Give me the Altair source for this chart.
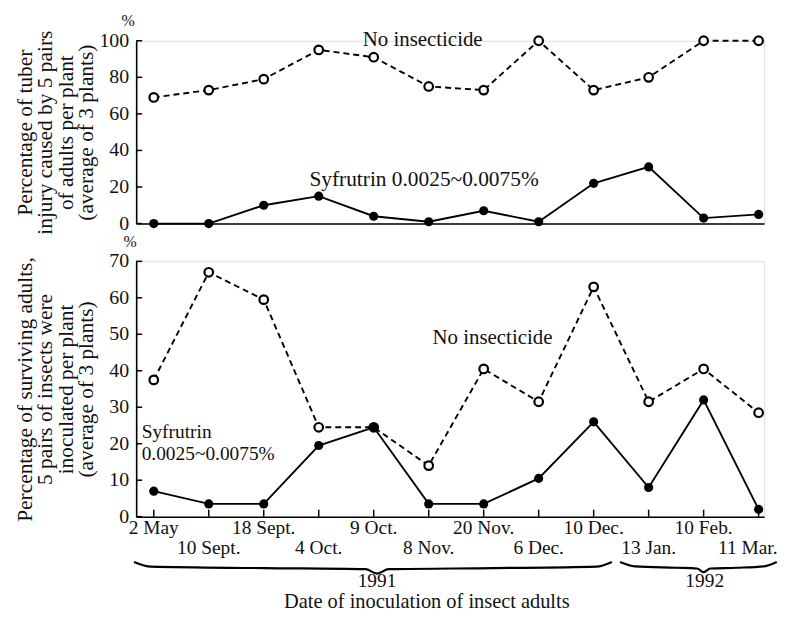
import altair as alt
import pandas as pd

# ---------------- data ----------------
dates = ["2 May", "10 Sept.", "18 Sept.", "4 Oct.", "9 Oct.", "8 Nov.",
         "20 Nov.", "6 Dec.", "10 Dec.", "13 Jan.", "10 Feb.", "11 Mar."]
injury_none = [69, 73, 79, 95, 91, 75, 73, 100, 73, 80, 100, 100]
injury_syf = [0, 0, 10, 15, 4, 1, 7, 1, 22, 31, 3, 5]
survive_none = [37.5, 67, 59.5, 24.5, 24.5, 14, 40.5, 31.5, 63, 31.5, 40.5, 28.5]
survive_syf = [7, 3.5, 3.5, 19.5, 24.5, 3.5, 3.5, 10.5, 26, 8, 32, 2]
top_ticks = [0, 20, 40, 60, 80, 100]
bottom_ticks = [0, 10, 20, 30, 40, 50, 60, 70]
years = ["1991", "1992"]

# brace outlines (x in date index, y in bottom-panel units)
brace1_x = [-0.36, -0.05, 2.0, 3.85, 4.06, 4.27, 6.2, 8.05, 8.33]
brace1_y = [-12.4, -13.7, -14.1, -14.4, -15.6, -14.4, -14.1, -13.7, -12.4]
brace2_x = [8.48, 8.75, 9.5, 9.88, 10.0, 10.12, 10.6, 11.1, 11.33]
brace2_y = [-12.4, -13.6, -14.0, -14.2, -15.2, -14.2, -14.0, -13.6, -12.4]

FONT = "Liberation Serif"
W = 632
H_TOP = 184
H_BOT = 257

idx = list(range(len(dates)))
df_top = pd.DataFrame({"idx": idx, "none": injury_none, "syf": injury_syf})
df_bot = pd.DataFrame({"idx": idx, "none": survive_none, "syf": survive_syf, "date": dates})
df_even = df_bot[df_bot.idx % 2 == 0]
df_odd = df_bot[(df_bot.idx % 2 == 1) & (df_bot.idx < len(dates) - 1)]
df_last = df_bot[df_bot.idx == len(dates) - 1]

xscale = alt.Scale(domain=[-0.32, 11.1], nice=False, zero=False)


def series_layers(df, yscale):
    base = alt.Chart(df)
    x = alt.X("idx:Q", scale=xscale)
    l_none = base.mark_line(color="black", strokeWidth=1.9, strokeDash=[6, 4]).encode(
        x=x, y=alt.Y("none:Q", scale=yscale))
    p_none = base.mark_point(shape="circle", filled=True, fill="white", stroke="black",
                             strokeWidth=2.2, size=75, opacity=1).encode(
        x=x, y=alt.Y("none:Q", scale=yscale))
    l_syf = base.mark_line(color="black", strokeWidth=1.9).encode(
        x=x, y=alt.Y("syf:Q", scale=yscale))
    p_syf = base.mark_circle(color="black", size=85, opacity=1).encode(
        x=x, y=alt.Y("syf:Q", scale=yscale))
    return [l_none, l_syf, p_none, p_syf]


def text_layer(text, xv, yv, yscale, align="left", size=20.5):
    d = pd.DataFrame({"t": [text], "x": [xv], "y": [yv]})
    return alt.Chart(d).mark_text(font=FONT, fontSize=size, align=align,
                                  baseline="middle", color="#111").encode(
        x=alt.X("x:Q", scale=xscale), y=alt.Y("y:Q", scale=yscale), text="t:N")


def pct_layer(dx, dy):
    d = pd.DataFrame({"t": ["%"]})
    return alt.Chart(d).mark_text(font=FONT, fontSize=16, align="center",
                                  baseline="middle", color="#111").encode(
        x=alt.value(dx), y=alt.value(dy), text="t:N")


def ytick_layer(vals, yscale):
    d = pd.DataFrame({"v": vals})
    return alt.Chart(d).mark_rule(color="black", strokeWidth=1.5).encode(
        x=alt.value(0), x2=alt.value(6), y=alt.Y("v:Q", scale=yscale))


def ylabel_layer(vals, yscale):
    d = pd.DataFrame({"v": vals})
    return alt.Chart(d).mark_text(font=FONT, fontSize=20, align="right",
                                  baseline="middle", color="#111").encode(
        x=alt.value(-7), y=alt.Y("v:Q", scale=yscale), text="v:Q")


yaxis_common = dict(domainColor="black", domainWidth=1.6, ticks=False, grid=False,
                    labels=False,
                    titleFont=FONT, titleFontSize=21.5, titleFontWeight="normal",
                    titleColor="#111", titleLineHeight=20.5, titlePadding=39)

# ---------------- top panel ----------------
ys_top = alt.Scale(domain=[0, 100], nice=False)
top_layers = series_layers(df_top, ys_top)
top_layers[0] = top_layers[0].encode(
    x=alt.X("idx:Q", scale=xscale,
            axis=alt.Axis(labels=False, ticks=False, domain=True, domainColor="black",
                          domainWidth=1.6, grid=False, title=None)),
    y=alt.Y("none:Q", scale=ys_top,
            axis=alt.Axis(values=top_ticks,
                          title=["Percentage of tuber", "injury caused by 5 pairs",
                                 "of adults per plant", "(average of 3 plants)"],
                          **yaxis_common)))
top = alt.layer(
    *top_layers,
    ytick_layer(top_ticks, ys_top),
    ylabel_layer(top_ticks, ys_top),
    text_layer("No insecticide", 3.8, 100.5, ys_top, size=21),
    text_layer("Syfrutrin 0.0025~0.0075%", 2.83, 24, ys_top, size=21.5),
    pct_layer(-8, -20),
).properties(width=W, height=H_TOP)

# ---------------- bottom panel ----------------
ys_bot = alt.Scale(domain=[0, 70], nice=False)
bot_layers = series_layers(df_bot, ys_bot)
bot_layers[0] = bot_layers[0].encode(
    x=alt.X("idx:Q", scale=xscale,
            axis=alt.Axis(labels=False, ticks=False, domain=True, domainColor="black",
                          domainWidth=1.6, grid=False, title=None)),
    y=alt.Y("none:Q", scale=ys_bot,
            axis=alt.Axis(values=bottom_ticks,
                          title=["Percentage of surviving adults,", "5 pairs of insects were",
                                 "inoculated per plant", "(average of 3 plants)"],
                          **yaxis_common)))

xticks = alt.Chart(df_bot).mark_rule(color="black", strokeWidth=1.5).encode(
    x=alt.X("idx:Q", scale=xscale), y=alt.value(H_BOT), y2=alt.value(H_BOT - 7))

lab_even = alt.Chart(df_even).mark_text(font=FONT, fontSize=19.5, baseline="middle",
                                        color="#111").encode(
    x=alt.X("idx:Q", scale=xscale), y=alt.value(H_BOT + 11), text="date:N")
lab_odd = alt.Chart(df_odd).mark_text(font=FONT, fontSize=19.5, baseline="middle",
                                      color="#111").encode(
    x=alt.X("idx:Q", scale=xscale), y=alt.value(H_BOT + 32), text="date:N")
lab_last = alt.Chart(df_last).mark_text(font=FONT, fontSize=19.5, baseline="middle",
                                        align="right", dx=19, color="#111").encode(
    x=alt.X("idx:Q", scale=xscale), y=alt.value(H_BOT + 32), text="date:N")

b1 = pd.DataFrame({"bx": brace1_x, "by": brace1_y, "o": range(len(brace1_x))})
b2 = pd.DataFrame({"bx": brace2_x, "by": brace2_y, "o": range(len(brace2_x))})
brace1 = alt.Chart(b1).mark_line(color="black", strokeWidth=2.2, interpolate="monotone").encode(
    x=alt.X("bx:Q", scale=xscale), y=alt.Y("by:Q", scale=ys_bot), order="o:Q")
brace2 = alt.Chart(b2).mark_line(color="black", strokeWidth=2.2, interpolate="monotone").encode(
    x=alt.X("bx:Q", scale=xscale), y=alt.Y("by:Q", scale=ys_bot), order="o:Q")

bottom = alt.layer(
    *bot_layers,
    ytick_layer(bottom_ticks, ys_bot),
    ylabel_layer(bottom_ticks, ys_bot),
    xticks, lab_even, lab_odd, lab_last, brace1, brace2,
    text_layer("No insecticide", 5.07, 49, ys_bot, size=21),
    text_layer("Syfrutrin", -0.22, 23.3, ys_bot, size=19.5),
    text_layer("0.0025~0.0075%", -0.22, 17.2, ys_bot, size=19.5),
    text_layer(years[0], 4.06, -17.7, ys_bot, align="center", size=19.5),
    text_layer(years[1], 10.02, -17.7, ys_bot, align="center", size=19.5),
    text_layer("Date of inoculation of insect adults", 2.37, -23.5, ys_bot, size=20.5),
    pct_layer(-6, -19),
).properties(width=W, height=H_BOT)

chart = alt.vconcat(top, bottom, spacing=38, bounds="flush").configure_view(
    stroke=None).configure(background="white",
                           padding={"left": 5, "top": 2, "right": 0, "bottom": 0})

chart.save("out.html", embed_options={"renderer": "svg", "actions": False})
